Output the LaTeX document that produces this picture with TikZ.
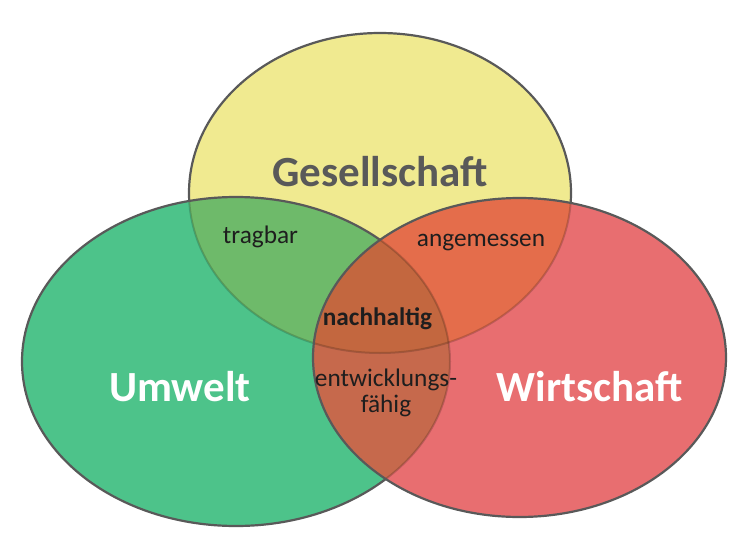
\documentclass[tikz,border=0pt]{standalone}
\usepackage{fontspec}
\setmainfont{Carlito}
\definecolor{cyel}{HTML}{F0EA90}
\definecolor{cgrn}{HTML}{4DC38A}
\definecolor{cred}{HTML}{E86E70}
\definecolor{cyg}{HTML}{6EBA6A}
\definecolor{cyr}{HTML}{E46D4B}
\definecolor{cgr}{HTML}{C6694C}
\definecolor{cygr}{HTML}{C3673F}
\definecolor{cline}{HTML}{595959}
\definecolor{ctxt}{HTML}{1E1E1E}
\begin{document}
\begin{tikzpicture}[x=1pt,y=-1pt,
  Yr/.style={x radius=191pt,y radius=160pt},
  Gr/.style={x radius=214pt,y radius=164.5pt},
  Rr/.style={x radius=206.5pt,y radius=159.5pt},
  outline/.style={draw=cline,line width=2.2pt},
  faint/.style={draw=black,draw opacity=0.18,line width=2pt},
  bigtext/.style={font=\fontsize{43}{43}\selectfont\bfseries,inner sep=0pt,anchor=base},
  smalltext/.style={font=\fontsize{25.3}{26}\selectfont,text=ctxt,inner sep=0pt,anchor=base}]
\useasboundingbox (0,0) rectangle (750,549);
\coordinate (Y) at (380,193);
\coordinate (G) at (236,361.5);
\coordinate (R) at (519.5,357.5);
% yellow layer
\fill[cyel] (Y) ellipse [Yr];
\draw[outline] (Y) ellipse [Yr];
% green layer
\fill[cgrn] (G) ellipse [Gr];
\begin{scope}
  \clip (Y) ellipse [Yr];
  \fill[cyg] (G) ellipse [Gr];
\end{scope}
\begin{scope}
  \clip (G) ellipse [Gr];
  \draw[faint] (Y) ellipse [Yr];
\end{scope}
\draw[outline] (G) ellipse [Gr];
% red layer
\fill[cred] (R) ellipse [Rr];
\begin{scope}
  \clip (Y) ellipse [Yr];
  \fill[cyr] (R) ellipse [Rr];
\end{scope}
\begin{scope}
  \clip (G) ellipse [Gr];
  \fill[cgr] (R) ellipse [Rr];
  \clip (Y) ellipse [Yr];
  \fill[cygr] (R) ellipse [Rr];
\end{scope}
\begin{scope}
  \clip (R) ellipse [Rr];
  \draw[faint] (Y) ellipse [Yr];
  \draw[faint] (G) ellipse [Gr];
\end{scope}
\draw[outline] (R) ellipse [Rr];
% labels
\node[bigtext,text=cline] (ges) at (380,186.5) {Gesellschaft};
\node[bigtext,text=white] (umw) at (180,401) {Umwelt};
\node[bigtext,text=white] (wir) at (590,401) {Wirtschaft};
\node[smalltext] (tra) at (260.5,243.3) {tragbar};
\node[smalltext] (ang) at (481,246.7) {angemessen};
\node[smalltext,font=\fontsize{25.3}{26}\selectfont\bfseries] (nac) at (377.5,325) {nachhaltig};
\node[smalltext,align=center] (ent) at (386,412.7) {entwicklungs-\\fähig};
\end{tikzpicture}
\end{document}
